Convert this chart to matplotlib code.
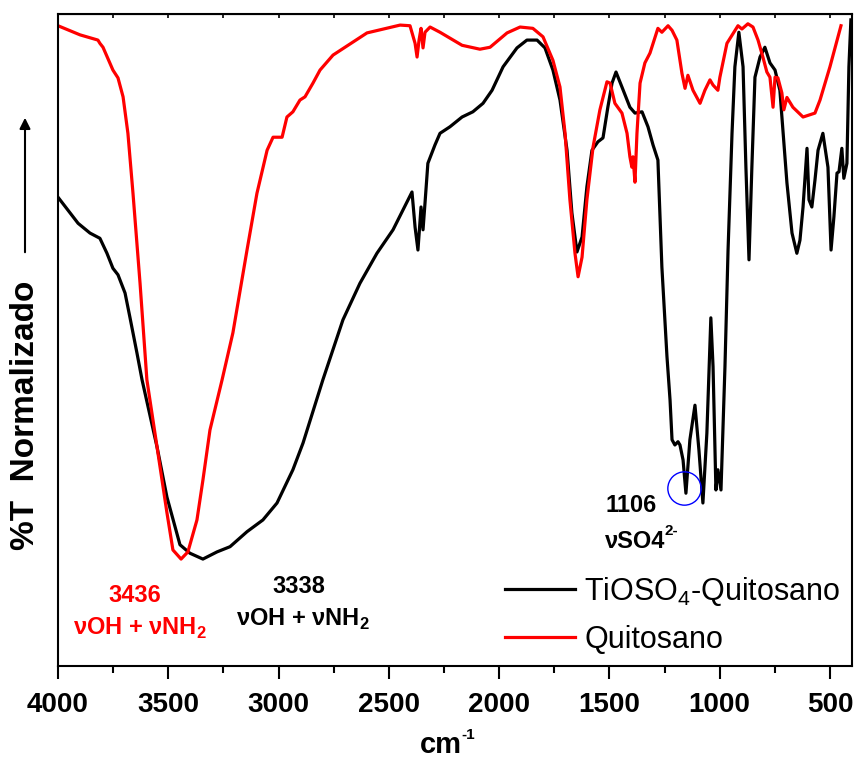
import numpy as np
import matplotlib
matplotlib.use("Agg")
import matplotlib.pyplot as plt

plt.rcParams['font.family'] = ['Liberation Sans', 'DejaVu Sans']
plt.rcParams['mathtext.fontset'] = 'custom'
plt.rcParams['mathtext.rm'] = 'Liberation Sans'
plt.rcParams['mathtext.bf'] = 'Liberation Sans:bold'

# Quitosano (red)
qui_wn = [4000, 3900, 3819, 3810, 3796, 3751, 3728, 3705, 3683, 3660, 3628, 3597,
          3551, 3506, 3479, 3442, 3411, 3370, 3343, 3311, 3256, 3207, 3143, 3098,
          3052, 3025, 2984, 2962, 2935, 2903, 2880, 2844, 2812, 2753, 2599, 2449,
          2404, 2381, 2372, 2363, 2354, 2345, 2336, 2313, 2268, 2168, 2087, 2041,
          1964, 1905, 1847, 1801, 1756, 1724, 1701, 1679, 1656, 1642, 1624, 1602,
          1574, 1543, 1511, 1497, 1475, 1443, 1420, 1407, 1398, 1393, 1384, 1375,
          1361, 1339, 1316, 1280, 1262, 1234, 1216, 1194, 1171, 1157, 1144, 1121,
          1089, 1067, 1044, 1030, 1008, 999, 967, 917, 899, 872, 849, 826, 804,
          786, 772, 758, 749, 736, 718, 709, 695, 668, 622, 568, 545, 500, 450]
qui_t = [98.2, 96.8, 96.0, 95.5, 94.9, 91.4, 90.2, 87.3, 81.7, 72.5, 58.7, 43.9,
         33.6, 23.5, 17.8, 16.4, 17.5, 22.4, 28.5, 36.2, 43.9, 51.1, 63.8, 72.5,
         79.1, 81.1, 81.1, 84.2, 85.0, 86.8, 87.3, 89.4, 91.4, 93.7, 97.1, 98.3,
         98.2, 95.5, 93.4, 96.0, 97.8, 94.8, 97.2, 98.0, 97.2, 95.2, 94.6, 94.9,
         97.1, 98.0, 97.8, 96.5, 92.9, 88.8, 81.7, 71.5, 63.3, 59.7, 62.7, 71.5,
         79.6, 85.3, 89.6, 89.4, 86.3, 84.8, 81.7, 78.1, 76.5, 78.1, 74.2, 81.7,
         89.4, 92.5, 94.0, 97.8, 97.2, 98.2, 97.5, 96.0, 90.9, 88.6, 90.6, 88.3,
         86.3, 88.3, 89.9, 89.1, 88.3, 90.3, 95.5, 98.2, 97.7, 98.5, 98.0, 96.0, 93.4,
         91.1, 90.3, 85.7, 90.3, 90.2, 87.9, 85.3, 87.2, 85.7, 84.2, 84.8, 86.8, 91.9, 98.2]

# TiOSO4-Quitosano (black)
ti_wn = [4000, 3909, 3855, 3810, 3778, 3751, 3728, 3696, 3674, 3642, 3619, 3551,
         3506, 3447, 3402, 3343, 3279, 3220, 3143, 3071, 3007, 2935, 2889, 2799,
         2708, 2631, 2554, 2481, 2395, 2381, 2368, 2354, 2345, 2336, 2323, 2291,
         2268, 2223, 2168, 2119, 2073, 2032, 1982, 1919, 1874, 1828, 1792, 1756,
         1724, 1692, 1670, 1647, 1624, 1602, 1579, 1552, 1529, 1507, 1488, 1470,
         1443, 1407, 1384, 1352, 1325, 1302, 1280, 1262, 1239, 1225, 1216, 1203,
         1189, 1180, 1166, 1153, 1135, 1112, 1094, 1076, 1058, 1040, 1030, 1017,
         1008, 994, 976, 962, 944, 931, 913, 894, 881, 867, 854, 840, 817, 795,
         772, 749, 727, 695, 672, 650, 636, 622, 604, 595, 582, 568, 554, 532,
         509, 495, 482, 468, 459, 446, 437, 423, 414, 405]
ti_t = [71.9, 67.9, 66.4, 65.6, 63.3, 61.0, 60.0, 57.2, 53.5, 48.0, 43.9, 33.6,
        25.9, 18.6, 17.3, 16.4, 17.5, 18.3, 20.6, 22.4, 25.0, 30.1, 34.2, 43.9,
        53.1, 58.7, 63.3, 66.9, 72.7, 67.3, 63.8, 70.4, 66.9, 71.0, 77.1, 79.9,
        81.7, 82.7, 84.2, 85.0, 86.3, 88.3, 91.9, 94.8, 96.0, 96.0, 94.8, 91.4,
        86.8, 79.1, 69.5, 63.5, 65.8, 73.5, 79.1, 80.4, 81.0, 85.7, 89.4, 91.1,
        88.8, 85.7, 84.8, 85.0, 82.7, 79.9, 77.6, 61.2, 47.5, 40.8, 34.7, 33.9,
        34.4, 33.9, 31.6, 26.5, 34.7, 40.0, 33.1, 25.0, 35.7, 53.4, 45.9, 27.0,
        30.1, 27.0, 45.9, 63.8, 81.7, 91.9, 97.2, 91.9, 76.5, 62.3, 76.5, 90.3, 93.4, 94.9,
        92.5, 91.4, 88.3, 74.1, 66.4, 63.3, 65.3, 70.4, 79.4, 71.5, 70.4, 74.5, 79.1, 81.7,
        76.5, 63.8, 68.9, 75.6, 75.8, 79.4, 74.8, 77.1, 91.9, 99.1]

fig = plt.figure(figsize=(8.56, 7.6), dpi=100)
ax = fig.add_axes([58/856, 94/760, 794/856, 652/760])

ax.plot(ti_wn, ti_t, color='black', lw=2.3, label='TiOSO$_4$-Quitosano')
ax.plot(qui_wn, qui_t, color='red', lw=2.3, label='Quitosano')

# circle around the 1106 band
ax.plot([1162], [27.3], marker='o', ms=24, mfc='none', mec='blue', mew=1.0)

ax.set_xlim(4000, 400)
ax.set_ylim(0, 100)
ax.set_xticks([4000, 3500, 3000, 2500, 2000, 1500, 1000, 500])
ax.set_xticks(np.arange(3750, 400, -500), minor=True)
ax.set_yticks([])
ax.tick_params(axis='x', which='major', direction='out', length=9, width=1.5,
               labelsize=20, pad=10)
ax.tick_params(axis='x', which='minor', direction='out', length=5, width=1.5)
for lab in ax.get_xticklabels():
    lab.set_fontweight('bold')
for sp in ax.spines.values():
    sp.set_linewidth(1.5)

top = ax.secondary_xaxis('top')
top.set_xticks([3750, 3500, 3250, 3000, 2750, 2500, 2250, 2000, 1750, 1500,
                1250, 1000, 750, 500])
top.tick_params(direction='in', length=3, width=1.2, labeltop=False)

# x label: cm with a short -1 superscript
fig.text(420/856, 7/760, 'cm', fontsize=21, fontweight='bold', ha='left', va='baseline')
fig.text(461/856, 21/760, '-1', fontsize=11, fontweight='bold', ha='left', va='baseline')

# y label with arrow
fig.text(26/856, 1 - 415/760, '%T  Normalizado', rotation=90, fontsize=24,
         fontweight='bold', ha='center', va='center')
fig.add_artist(matplotlib.patches.FancyArrowPatch(
    (25/856, 1 - 255/760), (25/856, 1 - 115/760), transform=fig.transFigure,
    arrowstyle='-|>', mutation_scale=16, lw=1.5, color='black'))

ax.text(3651, 9.8, '3436', color='red', fontsize=17, fontweight='bold',
        ha='center', va='baseline')
ax.text(3628, 4.75, 'νOH + νNH$_\\mathbf{2}$', color='red', fontsize=17,
        fontweight='bold', ha='center', va='baseline')
ax.text(2907, 11.2, '3338', color='black', fontsize=17, fontweight='bold',
        ha='center', va='baseline')
ax.text(2889, 6.1, 'νOH + νNH$_\\mathbf{2}$', color='black', fontsize=17,
        fontweight='bold', ha='center', va='baseline')
ax.text(1402, 23.6, '1106', color='black', fontsize=17, fontweight='bold',
        ha='center', va='baseline')
ax.text(1520, 18.1, 'νSO4', color='black', fontsize=17, fontweight='bold',
        ha='left', va='baseline')
ax.text(1248, 20.1, '2-', color='black', fontsize=11, fontweight='bold',
        ha='left', va='baseline')

ax.legend(loc='upper left', bbox_to_anchor=(505/856, 1 - 575/760),
          bbox_transform=fig.transFigure, frameon=False, fontsize=22,
          handlelength=2.3, handletextpad=0.3, labelspacing=0.55,
          borderpad=0, borderaxespad=0)

fig.savefig('out.png', dpi=100)
